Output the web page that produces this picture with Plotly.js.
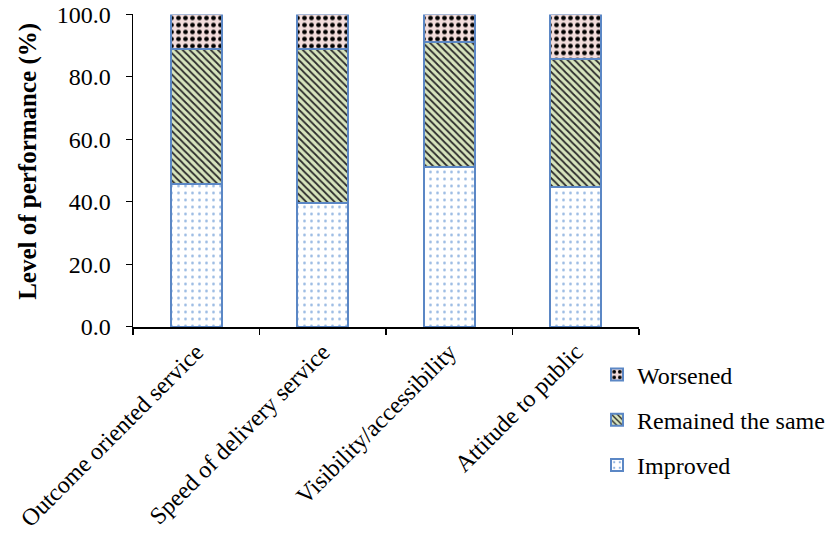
<!DOCTYPE html>
<html>
<head>
<meta charset="utf-8">
<script src="https://cdn.plot.ly/plotly-3.0.1.min.js"></script>
<style>html,body{margin:0;padding:0;background:#fff;}#chart{width:835px;height:540px;}</style>
</head>
<body>
<div id="chart"></div>
<script>
const categories = ["Outcome oriented service", "Speed of delivery service", "Visibility/accessibility", "Attitude to public"];
const improved = [45.9, 39.7, 51.2, 44.8];
const remainedSame = [43.1, 49.3, 40.1, 40.8];
const worsened = [11.0, 11.0, 8.7, 14.4];
const seriesNames = ["Improved", "Remained the same", "Worsened"];
const yTickVals = [0, 20, 40, 60, 80, 100];
const yTitle = "Level of performance (%)";

const FONT = "Liberation Serif";
const outline = {color: "#5b87c5", width: 2};

const traces = [
  {
    type: "bar", name: seriesNames[0], x: categories, y: improved, legendgroup: "g3", legendrank: 3,
    marker: {color: "#ffffff", line: outline,
      pattern: {shape: ".", fgcolor: "#8eb2e0", bgcolor: "#ffffff", size: 7, solidity: 0.12}}
  },
  {
    type: "bar", name: seriesNames[1], x: categories, y: remainedSame, legendgroup: "g2", legendrank: 2,
    marker: {color: "#d7e4bd", line: outline,
      pattern: {shape: "\\", fgcolor: "#2b2b2b", bgcolor: "#d7e4bd", size: 5, solidity: 0.35}}
  },
  {
    type: "bar", name: seriesNames[2], x: categories, y: worsened, legendgroup: "g1", legendrank: 1,
    marker: {color: "#f2dcdb", line: outline,
      pattern: {shape: ".", fgcolor: "#000000", bgcolor: "#f2dcdb", size: 7, solidity: 0.35}}
  }
];

const layout = {
  width: 835, height: 540,
  margin: {l: 133, r: 196, t: 0, b: 213},
  paper_bgcolor: "#ffffff", plot_bgcolor: "#ffffff",
  barmode: "stack", bargap: 0.6,
  font: {family: FONT, size: 24, color: "#000"},
  showlegend: true,
  legend: {
    x: 0.917, y: -0.078, xanchor: "left", yanchor: "top",
    traceorder: "grouped", tracegroupgap: 11,
    font: {family: FONT, size: 24, color: "#000"},
    itemwidth: 30, bgcolor: "rgba(0,0,0,0)"
  },
  annotations: [{
    text: "<b>" + yTitle + "</b>", xref: "paper", yref: "paper",
    x: -0.2075, y: 0.505, xanchor: "center", yanchor: "middle",
    textangle: -90, showarrow: false,
    font: {family: FONT, size: 25, color: "#000"}
  }],
  xaxis: {
    type: "category", tickson: "boundaries", ticks: "outside", ticklen: 6,
    tickcolor: "#000", tickwidth: 1.5, showline: true, linecolor: "#000", linewidth: 1.5,
    tickangle: -45, tickfont: {family: FONT, size: 24, color: "#000"},
    showgrid: false, zeroline: false, automargin: false
  },
  yaxis: {
    domain: [0, 0.9557],
    range: [0, 100], tickvals: yTickVals, tickformat: ".1f",
    ticks: "outside", ticklen: 6, tickcolor: "#000", tickwidth: 1,
    ticklabelstandoff: 10,
    showline: true, linecolor: "#000", linewidth: 1.5,
    showgrid: false, zeroline: false, automargin: false,
    tickfont: {family: FONT, size: 24, color: "#000"}
  }
};

Plotly.newPlot("chart", traces, layout, {displayModeBar: false, staticPlot: true});
</script>
</body>
</html>
